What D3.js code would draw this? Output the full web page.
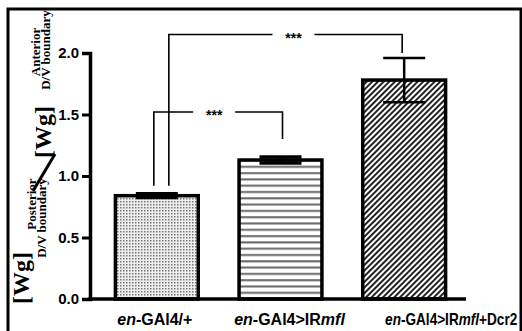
<!DOCTYPE html>
<meta charset="utf-8">

<!-- Load d3.js -->
<script src="https://d3js.org/d3.v7.min.js"></script>

<style>
  body { margin: 0; background: #fff; }
</style>

<!-- Create a div where the graph will take place -->
<div id="my_dataviz"></div>

<script>

// data
const groups = ["g1", "g2", "g3"];
const labelStart = ["en", "en", "en"];
const labelMid = ["-GAl4/+", "-GAl4>IR", "-GAl4>IR"];
const labelItalic = ["", "mfl", "mfl"];
const labelEnd = ["", "", "+Dcr2"];
const means = [0.84, 1.13, 1.78];
const errors = [0.015, 0.025, 0.18];
const fills = ["dots", "hlines", "diag"];
const yTicks = [0.0, 0.5, 1.0, 1.5, 2.0];

// significance brackets: from group, to group, bracket height, leg ends
const sigFrom = [0, 0];
const sigTo = [1, 2];
const sigLevel = [1.52, 2.15];
const sigLeftEnd = [0.92, 0.92];
const sigRightEnd = [1.30, 2.0];
const sigText = ["***", "***"];

const W = 522, H = 331;

const svg = d3.select("#my_dataviz")
    .append("svg")
    .attr("width", W)
    .attr("height", H);

// patterns
const defs = svg.append("defs");
const pDots = defs.append("pattern").attr("id", "dots")
    .attr("patternUnits", "userSpaceOnUse").attr("width", 3).attr("height", 3);
pDots.append("rect").attr("width", 3).attr("height", 3).attr("fill", "#eee");
pDots.append("rect").attr("width", 1.5).attr("height", 1.5).attr("fill", "#777");

const pH = defs.append("pattern").attr("id", "hlines")
    .attr("patternUnits", "userSpaceOnUse").attr("width", 10).attr("height", 6.3);
pH.append("rect").attr("width", 10).attr("height", 6.3).attr("fill", "#fff");
pH.append("rect").attr("y", 2).attr("width", 10).attr("height", 2).attr("fill", "#666");

const pD = defs.append("pattern").attr("id", "diag")
    .attr("patternUnits", "userSpaceOnUse").attr("width", 4).attr("height", 4)
    .attr("patternTransform", "rotate(45)");
pD.append("rect").attr("width", 4).attr("height", 4).attr("fill", "#fff");
pD.append("rect").attr("width", 2).attr("height", 4).attr("fill", "#222");

// frame around the picture
svg.append("rect")
    .attr("x", 8).attr("y", 9)
    .attr("width", 513).attr("height", 340)
    .attr("fill", "none")
    .attr("stroke", "#000")
    .attr("stroke-width", 3);

// scales
const x = d3.scaleBand()
    .domain(groups)
    .range([95, 466])
    .paddingInner(0.33)
    .paddingOuter(0.165);

const y = d3.scaleLinear()
    .domain([0, 2])
    .range([299, 53]);

// y axis
const yAxis = svg.append("g")
    .attr("transform", "translate(90,0)")
    .call(d3.axisLeft(y).tickValues(yTicks).tickFormat(d3.format(".1f")).tickSize(8).tickPadding(3));
yAxis.select(".domain").attr("stroke-width", 3.5);
yAxis.selectAll(".tick line").attr("stroke-width", 3);
yAxis.selectAll(".tick text")
    .style("font-family", "'Liberation Sans', Arial, sans-serif")
    .style("font-weight", "bold")
    .style("font-size", "15px")
    .attr("fill", "#000");

// bars
svg.selectAll("bars")
    .data(means)
    .enter()
    .append("rect")
    .attr("x", (d, i) => x(groups[i]))
    .attr("y", (d) => y(d))
    .attr("width", x.bandwidth())
    .attr("height", (d) => y(0) - y(d))
    .attr("fill", (d, i) => `url(#${fills[i]})`)
    .attr("stroke", "#000")
    .attr("stroke-width", 3.5);

// error bars
const capW = 42;
means.forEach((m, i) => {
    const cx = x(groups[i]) + x.bandwidth() / 2;
    const g = svg.append("g").attr("stroke", "#000").attr("stroke-width", i === 2 ? 2.5 : 3.5);
    g.append("line").attr("x1", cx).attr("x2", cx).attr("y1", y(m - errors[i])).attr("y2", y(m + errors[i]));
    g.append("line").attr("x1", cx - capW / 2).attr("x2", cx + capW / 2).attr("y1", y(m + errors[i])).attr("y2", y(m + errors[i]));
    g.append("line").attr("x1", cx - capW / 2).attr("x2", cx + capW / 2).attr("y1", y(m - errors[i])).attr("y2", y(m - errors[i]));
});

// x axis line (drawn after bars so the baseline stays on top)
svg.append("line")
    .attr("x1", 88).attr("x2", 466)
    .attr("y1", y(0)).attr("y2", y(0))
    .attr("stroke", "#000")
    .attr("stroke-width", 3.5);

// x labels (the figure sets them a little off the bar centres, the last one squeezed)
const labelShift = [-2, 9, 47];
const labelSqueeze = [1, 1, 0.85];
const xl = svg.selectAll("xlabels")
    .data(groups)
    .enter()
    .append("text")
    .attr("transform", (d, i) =>
        `translate(${x(d) + x.bandwidth() / 2 + labelShift[i]},325) scale(${labelSqueeze[i]},1)`)
    .attr("text-anchor", "middle")
    .style("font-family", "'Liberation Sans', Arial, sans-serif")
    .style("font-weight", "bold")
    .style("font-size", "16px");
xl.append("tspan").style("font-style", "italic").text((d, i) => labelStart[i]);
xl.append("tspan").text((d, i) => labelMid[i]);
xl.append("tspan").style("font-style", "italic").text((d, i) => labelItalic[i]);
xl.append("tspan").text((d, i) => labelEnd[i]);

// significance brackets
const legOffset = [-3, 12];
sigFrom.forEach((f, i) => {
    const x1 = x(groups[f]) + x.bandwidth() / 2 + legOffset[i];
    const x2 = x(groups[sigTo[i]]) + x.bandwidth() / 2 + (i === 0 ? 2 : -2);
    const yl = y(sigLevel[i]);
    const mid = (x1 + x2) / 2 + (i === 0 ? -4 : 8);
    const gap = 21;
    const g = svg.append("g").attr("stroke", "#000").attr("stroke-width", 1.6).attr("fill", "none");
    g.append("path").attr("d", `M${x1},${y(sigLeftEnd[i])} V${yl} H${mid - gap}`);
    g.append("path").attr("d", `M${mid + gap},${yl} H${x2} V${y(sigRightEnd[i])}`);
    svg.append("text")
        .attr("x", mid)
        .attr("y", yl + 8)
        .attr("text-anchor", "middle")
        .style("font-family", "'Liberation Sans', Arial, sans-serif")
        .style("font-weight", "bold")
        .style("font-size", "14px")
        .text(sigText[i]);
});

// y axis title: [Wg] posterior / [Wg] anterior, rotated
const serif = "'Liberation Serif', 'Times New Roman', serif";
function vtext(tx, ty, size, str) {
    return svg.append("text")
        .attr("transform", `translate(${tx},${ty}) rotate(-90)`)
        .attr("text-anchor", "middle")
        .style("font-family", serif)
        .style("font-weight", "bold")
        .style("font-size", size + "px")
        .text(str);
}
vtext(29, 278, 24, "[Wg]");
vtext(36, 204, 13, "Posterior");
vtext(46, 218, 13, "D/V boundary");
vtext(51, 132, 24, "[Wg]");
vtext(40, 52, 13, "Anterior");
vtext(50, 50, 13, "D/V boundary");
svg.append("line")
    .attr("x1", 33).attr("y1", 191)
    .attr("x2", 55).attr("y2", 154)
    .attr("stroke", "#000")
    .attr("stroke-width", 3);

</script>
